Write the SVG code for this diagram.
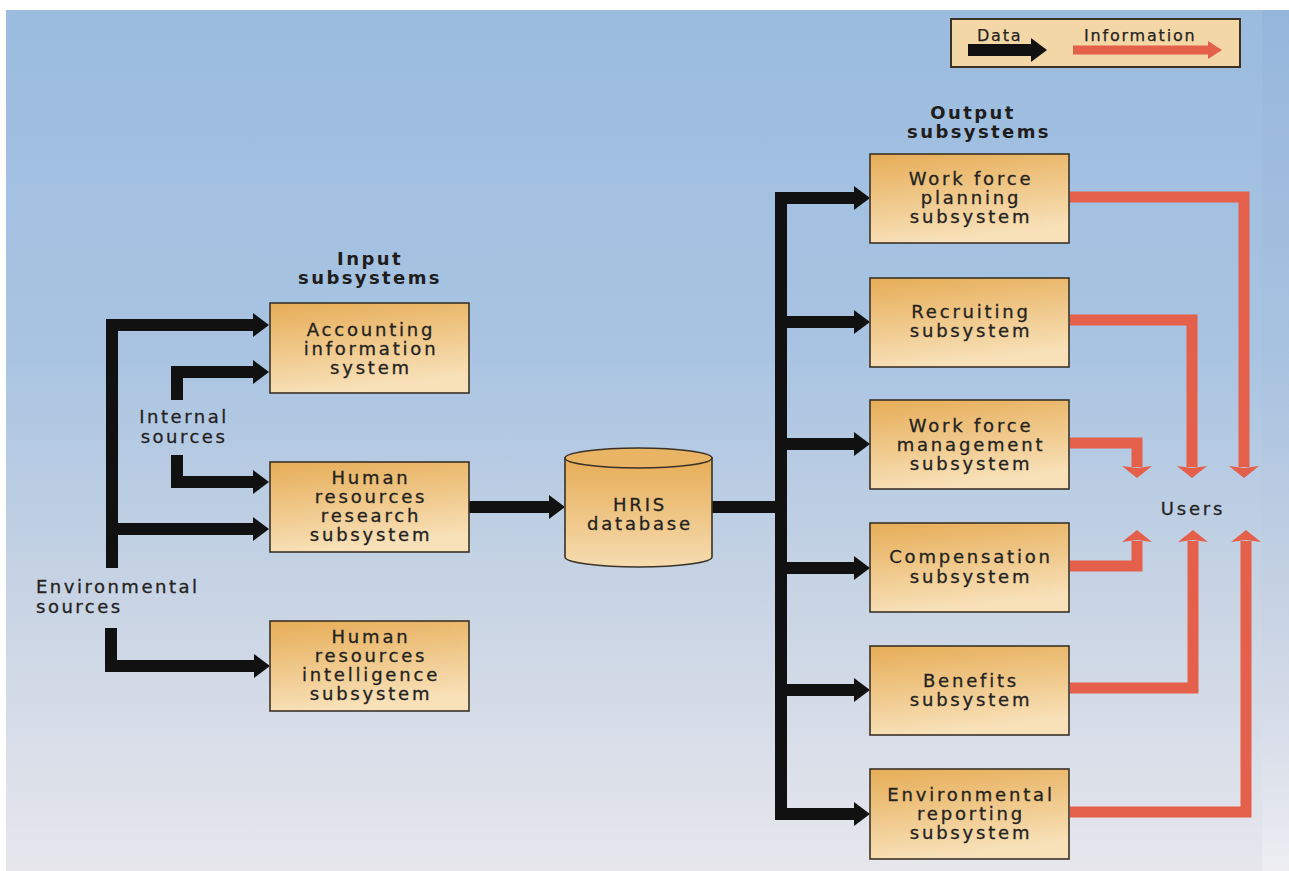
<svg xmlns="http://www.w3.org/2000/svg" width="1289" height="871" viewBox="0 0 1289 871">
  <style>
    .lbl { font-family: "DejaVu Sans", "Liberation Sans", sans-serif; font-size: 18px; letter-spacing: 2.8px; fill: #24231f; stroke: #24231f; stroke-width: 0.3; text-anchor: middle; }
    .side { font-family: "DejaVu Sans", "Liberation Sans", sans-serif; font-size: 18px; letter-spacing: 2.5px; fill: #24231f; stroke: #24231f; stroke-width: 0.3; }
    .head { font-family: "DejaVu Sans", "Liberation Sans", sans-serif; font-size: 18px; font-weight: bold; letter-spacing: 2.4px; fill: #1e1d1b; text-anchor: middle; }
    .leg { font-family: "DejaVu Sans", "Liberation Sans", sans-serif; font-size: 16px; letter-spacing: 1.8px; fill: #24231f; stroke: #24231f; stroke-width: 0.25; }
    .box { fill: url(#boxFill); stroke: #3a3227; stroke-width: 1.6; }
    .data { fill: none; stroke: #111; stroke-width: 12; stroke-linejoin: miter; stroke-linecap: butt; }
    .info { fill: none; stroke: #e4604a; stroke-width: 11; stroke-linejoin: miter; stroke-linecap: butt; }
  </style>
  <defs>
    <linearGradient id="bg" x1="0" y1="0" x2="0" y2="1">
      <stop offset="0" stop-color="#9bbcdf"/>
      <stop offset="0.4" stop-color="#a9c4e2"/>
      <stop offset="0.68" stop-color="#c8d4e4"/>
      <stop offset="1" stop-color="#e7e7ed"/>
    </linearGradient>
    <linearGradient id="edge" x1="0" y1="0" x2="0" y2="1">
      <stop offset="0" stop-color="#7e9fcc" stop-opacity="0.2"/>
      <stop offset="0.7" stop-color="#b9c6dc" stop-opacity="0.12"/>
      <stop offset="1" stop-color="#ffffff" stop-opacity="0.3"/>
    </linearGradient>
    <linearGradient id="boxFill" x1="0" y1="0" x2="0.25" y2="1">
      <stop offset="0" stop-color="#e6ad57"/>
      <stop offset="0.55" stop-color="#f0c98c"/>
      <stop offset="1" stop-color="#f8e1b9"/>
    </linearGradient>
    <linearGradient id="cylFill" x1="0" y1="0" x2="0" y2="1">
      <stop offset="0" stop-color="#e6ad57"/>
      <stop offset="0.6" stop-color="#f0c98c"/>
      <stop offset="1" stop-color="#f6dcb0"/>
    </linearGradient>
    <marker id="dataHead" viewBox="0 0 16 24" refX="1" refY="12" markerWidth="16" markerHeight="24" markerUnits="userSpaceOnUse" orient="auto-start-reverse">
      <path d="M0,0 L16,12 L0,24 Z" fill="#111"/>
    </marker>
    <marker id="infoHead" viewBox="0 0 12 30" refX="1" refY="15" markerWidth="12" markerHeight="30" markerUnits="userSpaceOnUse" orient="auto">
      <path d="M0,0 L12,15 L0,30 L2,15 Z" fill="#e4604a"/>
    </marker>
  </defs>

  <!-- page and backdrop -->
  <rect x="0" y="0" width="1289" height="871" fill="#ffffff"/>
  <rect x="6" y="10" width="1283" height="861" fill="url(#bg)"/>
  <rect x="1262" y="10" width="27" height="861" fill="url(#edge)"/>

  <!-- legend -->
  <g id="legend">
    <rect x="951" y="19" width="289" height="48" fill="#f4d7a6" stroke="#3a3227" stroke-width="2"/>
    <text class="leg" x="977" y="41">Data</text>
    <text class="leg" x="1084" y="41">Information</text>
    <path class="data" d="M968,50 H1032" stroke-width="11" marker-end="url(#dataHead)"/>
    <path d="M1073,50 H1209" fill="none" stroke="#e4604a" stroke-width="9"/>
    <path d="M1208,41 L1222,50 L1208,59 Z" fill="#e4604a"/>
  </g>

  <!-- section headings and free labels -->
  <g id="labels">
    <text class="head" x="370" y="265">Input</text>
    <text class="head" x="370" y="284">subsystems</text>
    <text class="head" x="973" y="119">Output</text>
    <text class="head" x="979" y="138">subsystems</text>
    <text class="side" x="184" y="423" text-anchor="middle">Internal</text>
    <text class="side" x="184" y="443" text-anchor="middle">sources</text>
    <text class="side" x="36" y="593">Environmental</text>
    <text class="side" x="36" y="613">sources</text>
  </g>

  <!-- data connectors -->
  <g id="connectors">
    <path class="data" d="M112,568 V325 H254" marker-end="url(#dataHead)"/>
    <path class="data" d="M112,529 H254" marker-end="url(#dataHead)"/>
    <path class="data" d="M177,400 V372 H254" marker-end="url(#dataHead)"/>
    <path class="data" d="M177,455 V482 H254" marker-end="url(#dataHead)"/>
    <path class="data" d="M111,628 V666 H255" marker-end="url(#dataHead)"/>
    <path class="data" d="M469,507 H550" marker-end="url(#dataHead)"/>
    <path class="data" d="M712,507 H781"/>
    <path class="data" d="M855,198 H781 V814 H855" stroke-width="13" marker-start="url(#dataHead)" marker-end="url(#dataHead)"/>
    <path class="data" d="M781,322 H855" marker-end="url(#dataHead)"/>
    <path class="data" d="M781,444 H855" marker-end="url(#dataHead)"/>
    <path class="data" d="M781,568 H855" marker-end="url(#dataHead)"/>
    <path class="data" d="M781,690 H855" marker-end="url(#dataHead)"/>

    <!-- information flows to users -->
    <path class="info" d="M1070,197 H1244 V467" marker-end="url(#infoHead)"/>
    <path class="info" d="M1070,320 H1192 V467" marker-end="url(#infoHead)"/>
    <path class="info" d="M1070,443 H1137 V467" marker-end="url(#infoHead)"/>
    <path class="info" d="M1070,566 H1137 V541" marker-end="url(#infoHead)"/>
    <path class="info" d="M1070,688 H1193 V541" marker-end="url(#infoHead)"/>
    <path class="info" d="M1070,812 H1246 V541" marker-end="url(#infoHead)"/>
  </g>

  <!-- input subsystems -->
  <g id="accounting">
    <rect class="box" x="270" y="303" width="199" height="90"/>
    <text class="lbl" x="371" y="336">Accounting</text>
    <text class="lbl" x="371" y="355">information</text>
    <text class="lbl" x="371" y="374">system</text>
  </g>
  <g id="hr-research">
    <rect class="box" x="270" y="462" width="199" height="90"/>
    <text class="lbl" x="371" y="484">Human</text>
    <text class="lbl" x="371" y="503">resources</text>
    <text class="lbl" x="371" y="522">research</text>
    <text class="lbl" x="371" y="541">subsystem</text>
  </g>
  <g id="hr-intelligence">
    <rect class="box" x="270" y="621" width="199" height="90"/>
    <text class="lbl" x="371" y="643">Human</text>
    <text class="lbl" x="371" y="662">resources</text>
    <text class="lbl" x="371" y="681">intelligence</text>
    <text class="lbl" x="371" y="700">subsystem</text>
  </g>

  <!-- central database -->
  <g id="hris-db">
    <path d="M565,458 V557 A73.5,10 0 0 0 712,557 V458 Z" fill="url(#cylFill)" stroke="#3a3227" stroke-width="1.6"/>
    <ellipse cx="638.5" cy="458" rx="73.5" ry="10" fill="#e9b463" stroke="#3a3227" stroke-width="1.6"/>
    <text class="lbl" x="640" y="511">HRIS</text>
    <text class="lbl" x="640" y="530">database</text>
  </g>

  <!-- output subsystems -->
  <g id="workforce-planning">
    <rect class="box" x="870" y="154" width="199" height="89"/>
    <text class="lbl" x="971" y="185">Work force</text>
    <text class="lbl" x="971" y="204">planning</text>
    <text class="lbl" x="971" y="223">subsystem</text>
  </g>
  <g id="recruiting">
    <rect class="box" x="870" y="278" width="199" height="89"/>
    <text class="lbl" x="971" y="318">Recruiting</text>
    <text class="lbl" x="971" y="337">subsystem</text>
  </g>
  <g id="workforce-management">
    <rect class="box" x="870" y="400" width="199" height="89"/>
    <text class="lbl" x="971" y="432">Work force</text>
    <text class="lbl" x="971" y="451">management</text>
    <text class="lbl" x="971" y="470">subsystem</text>
  </g>
  <g id="compensation">
    <rect class="box" x="870" y="523" width="199" height="89"/>
    <text class="lbl" x="971" y="563">Compensation</text>
    <text class="lbl" x="971" y="583">subsystem</text>
  </g>
  <g id="benefits">
    <rect class="box" x="870" y="646" width="199" height="89"/>
    <text class="lbl" x="971" y="687">Benefits</text>
    <text class="lbl" x="971" y="706">subsystem</text>
  </g>
  <g id="environmental-reporting">
    <rect class="box" x="870" y="769" width="199" height="90"/>
    <text class="lbl" x="971" y="801">Environmental</text>
    <text class="lbl" x="971" y="820">reporting</text>
    <text class="lbl" x="971" y="839">subsystem</text>
  </g>

  <g id="users">
    <text class="lbl" x="1193" y="515" letter-spacing="2px">Users</text>
  </g>
</svg>
